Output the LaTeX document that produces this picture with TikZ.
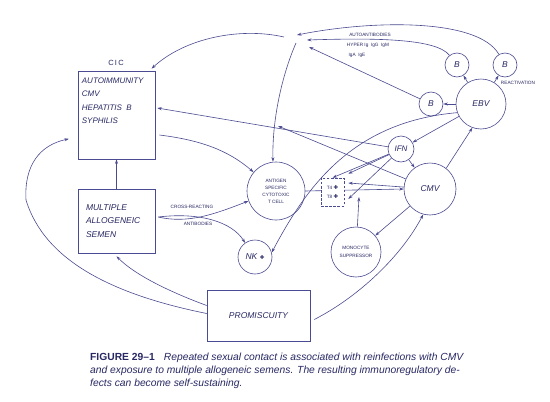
\documentclass[tikz,border=0pt]{standalone}
\usepackage{fontspec}
\setmainfont{Liberation Sans}
\newfontfamily\symfont{DejaVu Sans}
\usepackage{tikz}
\usetikzlibrary{arrows.meta, positioning, backgrounds}
\definecolor{inkblue}{RGB}{40,40,100}
\definecolor{lineblue}{RGB}{75,75,145}
\newcommand{\tplus}{{\symfont\fontsize{5.5}{5.5}\selectfont ✚}}

\begin{document}
\begin{tikzpicture}[x=1pt, y=-1pt,
  >={Stealth[length=4.5pt,width=3pt]},
  cell/.style={circle, draw=lineblue, line width=0.6pt, inner sep=0pt,
    text=inkblue, font=\itshape\fontsize{8.5}{10}\selectfont},
  panel/.style={rectangle, draw=lineblue, line width=0.6pt, inner sep=0pt,
    text=inkblue},
  tiny/.style={text=inkblue, font=\fontsize{4.7}{7}\selectfont,
    inner sep=0pt, align=center},
  conn/.style={->, draw=lineblue, line width=0.6pt}]

  \useasboundingbox (0,0) rectangle (550,402);
  \begin{pgfonlayer}{background}
    \fill[white] (0,0) rectangle (550,402);
  \end{pgfonlayer}

  %% boxes on the left
  \node[text=inkblue, font=\fontsize{7.5}{9}\selectfont] (ciclabel) at (116,63) {C\,I\,C};
  \node[panel, minimum width=77, minimum height=88] (cic) at (116.5,115) {};
  \node[anchor=north west, align=left, inner sep=0pt, text=inkblue,
    font=\itshape\fontsize{8}{13.3}\selectfont] (cictext)
    at ([shift={(4,7)}]cic.north west)
    {AUTOIMMUNITY\\CMV\\HEPATITIS\ \ B\\SYPHILIS};
  \node[panel, minimum width=77, minimum height=64, align=left, text width=61,
    font=\itshape\fontsize{8.5}{13.5}\selectfont] (semen) at (116.5,221)
    {MULTIPLE\\ALLOGENEIC\\SEMEN};
  \node[panel, minimum width=103, minimum height=51,
    font=\itshape\fontsize{8.5}{10}\selectfont] (promisc) at (258.5,315.5) {PROMISCUITY};

  %% cells
  \node[cell, minimum size=58, align=center, font=\fontsize{4.7}{7}\selectfont] (antigen) at (276,191)
    {ANTIGEN\\SPECIFIC\\CYTOTOXIC\\T CELL};
  \node[cell, minimum size=34] (nk) at (255,257) {NK\ \tplus};
  \node[cell, minimum size=52] (cmv) at (430,189) {CMV};
  \node[cell, minimum size=26, font=\itshape\fontsize{8}{10}\selectfont] (ifn) at (401,149) {IFN};
  \node[cell, minimum size=50] (ebv) at (481,104) {EBV};
  \node[cell, minimum size=24] (b1) at (457,65) {B};
  \node[cell, minimum size=24] (b2) at (505,65) {B};
  \node[cell, minimum size=24] (b3) at (431,104) {B};
  \node[cell, minimum size=50, align=center, font=\fontsize{4.7}{8}\selectfont] (mono) at (356,252)
    {MONOCYTE\\SUPPRESSOR};
  \node[draw=lineblue, line width=0.6pt, dash pattern=on 2.5pt off 1.6pt, fill=white,
    minimum width=23, minimum height=28, inner sep=0pt, align=center,
    text=inkblue, font=\fontsize{4.7}{9}\selectfont] (tbox) at (332.5,192)
    {T4\ \tplus\\T8\ \tplus};

  %% small labels
  \node[tiny] (lautoab) at (370,35) {AUTOANTIBODIES};
  \node[tiny] (lhyper) at (368,45) {HYPER Ig\ \ IgG\ \ IgM};
  \node[tiny] (liga) at (357,55) {IgA\ \ IgE};
  \node[tiny] (lreact) at (518,83) {REACTIVATION};
  \node[tiny] (lcross) at (192,207) {CROSS-REACTING};
  \node[tiny] (lanti) at (198,224) {ANTIBODIES};

  \coordinate (hubA) at (297,35);
  \coordinate (hubB) at (307,40);
  \coordinate (hubC) at (309,47);
  \coordinate (hubL) at (284,37);
  \coordinate (hubD) at (296,43);
  \coordinate (cmvend) at (278,126);
  \coordinate (tline) at (359,197);

  %% B cells into the top cluster
  \draw[conn] (b2) .. controls (478,18) and (372,20) .. (hubA);
  \draw[conn] (b1) .. controls (436,38) and (372,38) .. (hubB);
  \draw[conn] (b3) -- (hubC);

  %% out of the top cluster
  \draw[conn, shorten >=3pt] (hubL) .. controls (240,27) and (185,38) .. ([xshift=-6]cic.north east);
  \draw[conn] (hubD) .. controls (282,75) and (272,120) .. ([xshift=-3]antigen.north);

  %% EBV
  \draw[conn] (ebv) -- (b1);
  \draw[conn] (ebv) -- (b2);
  \draw[conn] (ebv) -- (b3);
  \draw[conn] (ebv) -- (ifn);
  \draw[conn] (ebv.200) .. controls (350,122) and (305,190) .. (nk.15);
  \draw[conn] (cmv.52) -- (ebv.250);

  %% IFN
  \draw[conn] (ifn) -- ([shift={(2,-7)}]cic.east);
  \draw[conn] (ifn) -- (tbox.north);
  \draw[conn] (ifn) -- ([shift={(4,-4)}]tbox.north east);
  \draw[conn] (ifn) -- ([shift={(4,7)}]tbox.east);
  \draw[conn] (ifn) -- (cmv);

  %% CMV
  \draw[conn] (cmv) -- (cmvend);
  \draw[conn] (cmv) -- ([shift={(4,-9)}]tbox.east);
  \draw[conn] (cmv) -- (mono);
  \begin{pgfonlayer}{background}
    \draw[conn] (antigen.east) -- (cmv.west);
  \end{pgfonlayer}
  \draw[conn] (mono) -- (tline);

  %% left side
  \draw[conn] ([shift={(4,20)}]cic.east) .. controls (200,140) and (228,150) .. (antigen.140);
  \draw[conn] (semen.north) -- (cic.south);
  \draw[conn] ([shift={(3,-4)}]semen.east) .. controls (188,224) and (215,214) .. (antigen.200);
  \draw[conn] ([shift={(3,-4)}]semen.east) .. controls (200,212) and (232,222) .. (nk.125);

  %% promiscuity
  \draw[conn] ([yshift=10]promisc.west) .. controls (170,292) and (135,275) .. ([yshift=-3]semen.south);
  \draw[conn, shorten >=9pt] ([yshift=2]promisc.west) .. controls (115,295) and (45,262) .. (26,200)
    .. controls (24,165) and (40,145) .. ([yshift=-22]cic.west);
  \draw[conn] ([shift={(4,4)}]promisc.east) .. controls (360,296) and (402,255) .. (cmv.255);

  %% caption
  \node[anchor=north west, align=left, inner sep=0pt, text=inkblue,
    font=\itshape\fontsize{10.3}{13}\selectfont] (caption) at (90,353)
    {{\upshape\bfseries FIGURE 29–1}\hspace{9pt}Repeated sexual contact is associated with reinfections with CMV\\
     and exposure to multiple allogeneic semens. The resulting immunoregulatory de-\\
     fects can become self-sustaining.};
\end{tikzpicture}
\end{document}
